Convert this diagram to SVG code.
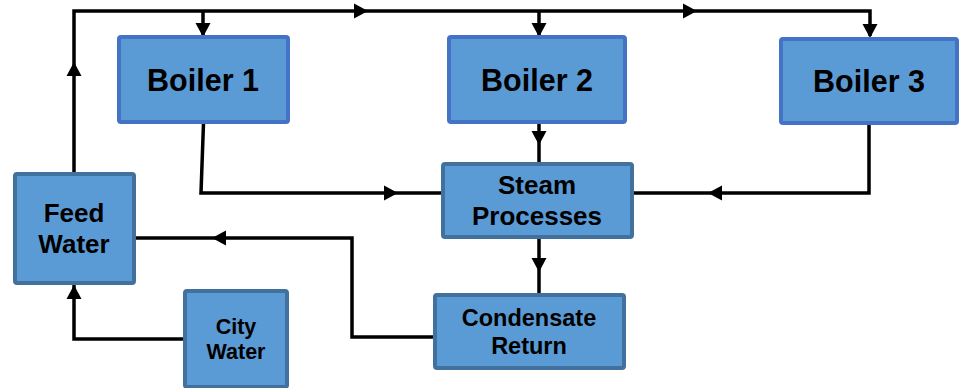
<svg xmlns="http://www.w3.org/2000/svg" xmlns:xlink="http://www.w3.org/1999/xlink" width="961" height="388" viewBox="0 0 961 388">
  <style>
    .boiler rect { fill: #5B9BD5; stroke: #4472C4; stroke-width: 4; }
    .unit rect { fill: #5B9BD5; stroke: #41719C; stroke-width: 4; }
    text { font-family: "Liberation Sans", Arial, sans-serif; font-weight: bold; fill: #000; text-anchor: middle; }
    .wire { fill: none; stroke: #000; stroke-width: 3.5; stroke-linejoin: miter; }
    .head { fill: #000; }
  </style>
  <defs>
    <!-- arrowhead pointing right, tip at the origin -->
    <path id="ah" class="head" d="M0,0 L-14,-7.5 L-14,7.5 Z"/>
  </defs>

  <!-- connectors -->
  <g id="connectors">
    <!-- feed water supply line to the boilers -->
    <path class="wire" d="M74,172 V11 H870 V36"/>
    <path class="wire" d="M203,11 V35"/>
    <path class="wire" d="M539,11 V35"/>
    <use xlink:href="#ah" transform="translate(74,62) rotate(-90)"/>
    <use xlink:href="#ah" transform="translate(368,11)"/>
    <use xlink:href="#ah" transform="translate(697,11)"/>
    <use xlink:href="#ah" transform="translate(203,37) rotate(90)"/>
    <use xlink:href="#ah" transform="translate(539,37) rotate(90)"/>
    <use xlink:href="#ah" transform="translate(870,38) rotate(90)"/>

    <!-- boilers to steam processes -->
    <path class="wire" d="M203.5,123 L201,193 H441"/>
    <use xlink:href="#ah" transform="translate(398,193)"/>
    <path class="wire" d="M539,123 V162"/>
    <use xlink:href="#ah" transform="translate(539,145) rotate(90)"/>
    <path class="wire" d="M869,124 V193 H634"/>
    <use xlink:href="#ah" transform="translate(708,193) rotate(180)"/>

    <!-- steam processes to condensate return -->
    <path class="wire" d="M539,239 V293"/>
    <use xlink:href="#ah" transform="translate(539,272) rotate(90)"/>

    <!-- condensate return to feed water -->
    <path class="wire" d="M433,337 H352 V238 H135"/>
    <use xlink:href="#ah" transform="translate(212,238) rotate(180)"/>

    <!-- city water to feed water -->
    <path class="wire" d="M183,339 H74 V285"/>
    <use xlink:href="#ah" transform="translate(74,285) rotate(-90)"/>
  </g>

  <g id="boiler1" class="boiler">
    <rect x="119" y="37" width="169" height="85" rx="2"/>
    <text x="203" y="91" font-size="30.5">Boiler 1</text>
  </g>
  <g id="boiler2" class="boiler">
    <rect x="449" y="37" width="176" height="85" rx="2"/>
    <text x="537" y="91" font-size="30.5">Boiler 2</text>
  </g>
  <g id="boiler3" class="boiler">
    <rect x="781" y="39" width="176" height="84" rx="2"/>
    <text x="869" y="92" font-size="30.5">Boiler 3</text>
  </g>

  <g id="steam-processes" class="unit">
    <rect x="443" y="164" width="189" height="73" rx="2"/>
    <text x="537" y="194" font-size="26">Steam</text>
    <text x="537" y="225" font-size="26">Processes</text>
  </g>

  <g id="condensate-return" class="unit">
    <rect x="435" y="295" width="189" height="73" rx="2"/>
    <text x="529" y="326" font-size="23.5">Condensate</text>
    <text x="529" y="354" font-size="23.5">Return</text>
  </g>

  <g id="feed-water" class="unit">
    <rect x="15" y="174" width="119" height="109" rx="2"/>
    <text x="74" y="222" font-size="26">Feed</text>
    <text x="74" y="253" font-size="26">Water</text>
  </g>

  <g id="city-water" class="unit">
    <rect x="185" y="291" width="102" height="96" rx="2"/>
    <text x="236" y="334" font-size="21.5">City</text>
    <text x="236" y="359" font-size="21.5">Water</text>
  </g>
</svg>
